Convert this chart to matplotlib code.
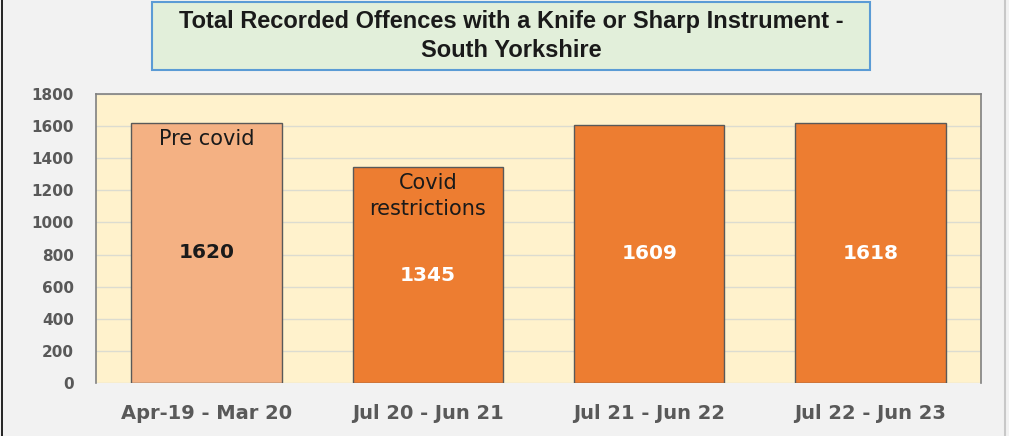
import matplotlib
matplotlib.use("Agg")
import matplotlib.pyplot as plt
from matplotlib.patches import Rectangle
from matplotlib.lines import Line2D

categories = ["Apr-19 - Mar 20", "Jul 20 - Jun 21", "Jul 21 - Jun 22", "Jul 22 - Jun 23"]
values = [1620, 1345, 1609, 1618]
notes = ["Pre covid", "Covid\nrestrictions", "", ""]
bar_colors = ["#f4b183", "#ed7d31", "#ed7d31", "#ed7d31"]
label_colors = ["#1a1a1a", "white", "white", "white"]
yticks = [0, 200, 400, 600, 800, 1000, 1200, 1400, 1600, 1800]

fig = plt.figure(figsize=(10.09, 4.36), dpi=100)
fig.patch.set_facecolor("#f2f2f2")

ax = fig.add_axes([96/1009, 1-383/436, (981-96)/1009, (383-94)/436])
ax.set_facecolor("#fff2cc")
x = list(range(len(categories)))
ax.bar(x, values, width=0.68, color=bar_colors, edgecolor="#595959", linewidth=1.0, zorder=3)
ax.set_xlim(-0.5, len(categories)-0.5)
ax.set_ylim(0, 1800)
ax.set_yticks(yticks)
ax.set_yticklabels([str(t) for t in yticks], fontsize=11, color="#595959", fontweight="bold")
ax.set_xticks(x)
ax.set_xticklabels(categories, fontsize=14, color="#595959", fontweight="bold")
ax.tick_params(axis="y", length=0, pad=16)
ax.tick_params(axis="x", length=0, pad=15)
ax.grid(axis="y", color="#dcdcd0", linewidth=1.0, zorder=0)
for s in ["top", "right", "left"]:
    ax.spines[s].set_color("#808080")
    ax.spines[s].set_linewidth(1.2)
ax.spines["bottom"].set_visible(False)

for i, v in enumerate(values):
    ax.text(i, v/2, str(v), ha="center", va="center", fontsize=14.5, fontweight="bold",
            color=label_colors[i], zorder=4)
    if notes[i]:
        ax.text(i, v - 35, notes[i], ha="center", va="top", fontsize=15, color="#1a1a1a",
                linespacing=1.4, zorder=4)

# title box
fig.patches.append(Rectangle((152/1009, 1-70/436), (870-152)/1009, (70-2)/436,
                             transform=fig.transFigure, facecolor="#e2efda",
                             edgecolor="#5b9bd5", linewidth=1.5))
fig.text(511/1009, 1-36/436, "Total Recorded Offences with a Knife or Sharp Instrument -\nSouth Yorkshire",
         ha="center", va="center", fontsize=17, fontweight="bold", color="#1a1a1a",
         linespacing=1.3, family="Liberation Sans")

# frame lines
fig.lines.append(Line2D([2/1009, 2/1009], [0, 1], transform=fig.transFigure, color="black", linewidth=1.2))
fig.lines.append(Line2D([1005/1009, 1005/1009], [0, 1], transform=fig.transFigure, color="#c8c8c8", linewidth=1.5))

fig.savefig("out.png", dpi=100, facecolor=fig.get_facecolor())
